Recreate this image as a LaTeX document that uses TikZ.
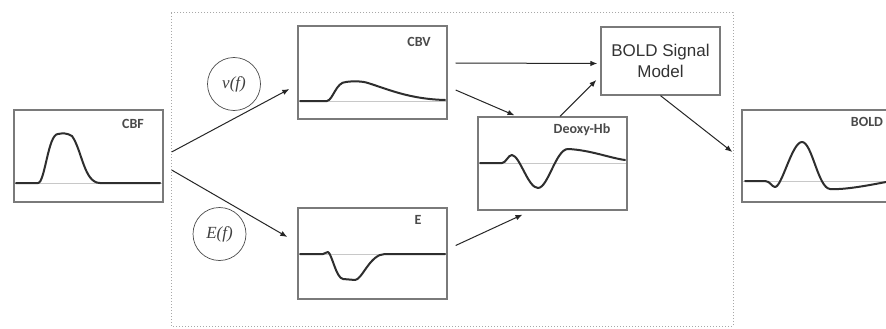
\documentclass[tikz,border=0pt]{standalone}
\usepackage{fontspec}
\setmainfont{Liberation Sans}
\newfontfamily\lblfont{Carlito}
\newfontfamily\mathfont{Liberation Serif}
\usetikzlibrary{arrows.meta,calc}
\definecolor{boxgray}{HTML}{7A7A7A}
\definecolor{curvecol}{HTML}{2E2E2E}
\definecolor{basecol}{HTML}{C8C8C8}
\definecolor{framecol}{HTML}{A8A8A8}
\definecolor{lblcol}{HTML}{4A4A4A}
\begin{document}
\begin{tikzpicture}[x=1pt,y=-1pt,
  graphbox/.style={draw=boxgray,line width=1.3pt,inner sep=0pt,minimum width=149pt,minimum height=92pt},
  modelbox/.style={draw=boxgray,line width=1.3pt,inner sep=0pt,minimum width=119pt,minimum height=68pt,align=center,font=\fontsize{17pt}{20.5pt}\selectfont,text=black!80},
  lbl/.style={font=\lblfont\bfseries\fontsize{14pt}{16pt}\selectfont,text=lblcol,inner sep=0pt},
  fcircle/.style={circle,draw=black!70,line width=0.7pt,minimum size=53pt,inner sep=0pt,font=\mathfont\itshape\fontsize{17pt}{19pt}\selectfont,text=black!75},
  curve/.style={draw=curvecol,line width=2pt,line join=round,line cap=round},
  baseline/.style={draw=basecol,line width=0.8pt},
  arr/.style={draw=black!85,line width=1pt,-{Latex[length=7pt,width=5.5pt]}},
  frame/.style={draw=framecol,line width=1pt,dotted}]
\clip (0,0) rectangle (886,329);
\fill[white] (0,0) rectangle (886,329);

% dotted frame
\draw[frame] (171,13) rectangle (733,326);

% boxes
\node[graphbox] (cbf) at (88.5,156) {};
\node[graphbox,minimum height=93pt] (cbv) at (372.5,72.5) {};
\node[graphbox,minimum height=91pt] (e) at (372.5,253.5) {};
\node[graphbox,minimum height=93pt] (deoxy) at (552.5,163.5) {};
\node[modelbox] (model) at (660.5,61) {BOLD Signal\\Model};
\node[graphbox] (bold) at (816.5,156) {};

% labels
\node[lbl] (cbfl) at (133,124) {CBF};
\node[lbl] (cbvl) at (419,42) {CBV};
\node[lbl] (el) at (418,220) {E};
\node[lbl] (deoxyl) at (582,130) {Deoxy-Hb};
\node[lbl] (boldl) at (867,122) {BOLD};

% circles
\node[fcircle] (vf) at (234,84) {v(f)};
\node[fcircle] (ef) at (219.5,234) {E(f)};

% baselines
\draw[baseline] (15,183) -- (162,183);
\draw[baseline] (299,101) -- (446,101);
\draw[baseline] (299,254) -- (446,254);
\draw[baseline] (479,163) -- (626,163);
\draw[baseline] (743,181) -- (886,181);

% curves
\draw[curve] (16,183) -- (38,183) .. controls (45,183) and (48,134) .. (58,134)
  .. controls (63,133) and (67,133) .. (72,136) .. controls (82,150) and (84,183) .. (100,183) -- (160,183);
\draw[curve] (300,101) -- (327,101) .. controls (333,100) and (336,82) .. (346,82)
  .. controls (352,81) and (362,81) .. (368,83) .. controls (390,90) and (410,99) .. (445,100);
\draw[curve] (300,254) -- (323,254) .. controls (326,254) and (327,251) .. (328,252)
  .. controls (332,254) and (336,278) .. (343,279) -- (355,280)
  .. controls (362,280) and (370,254) .. (385,254) -- (445,254);
\draw[curve] (480,163) -- (502,163) .. controls (506,163) and (508,155) .. (512,155)
  .. controls (520,156) and (528,188) .. (538,188) .. controls (548,188) and (556,149) .. (568,149)
  .. controls (590,150) and (610,158) .. (625,160);
\draw[curve] (745,181) -- (765,181) .. controls (770,181) and (772,187) .. (775,187)
  .. controls (782,187) and (792,142) .. (802,142) .. controls (812,142) and (818,188) .. (830,189)
  .. controls (845,190) and (870,185) .. (886,182);

% connectors
\draw[arr] ($(cbf.east)+(8,-4)$) -- ($(cbv.west)+(-8,16.5)$);
\draw[arr] ($(cbf.east)+(8,14)$) -- ($(e.west)+(-10,-16.5)$);
\draw[arr] ($(cbv.east)+(8,-9.5)$) -- ($(model.west)+(-3,2.5)$);
\draw[arr] ($(cbv.east)+(8,17.5)$) -- ($(deoxy.north)+(-38,-1)$);
\draw[arr] ($(e.east)+(8,-8)$) -- ($(deoxy.south)+(-30,4)$);
\draw[arr] ($(deoxy.north)+(7.5,0)$) -- ($(model.west)+(-4,19)$);
\draw[arr] (model.south) -- ($(bold.west)+(-9,-4)$);
\end{tikzpicture}
\end{document}
